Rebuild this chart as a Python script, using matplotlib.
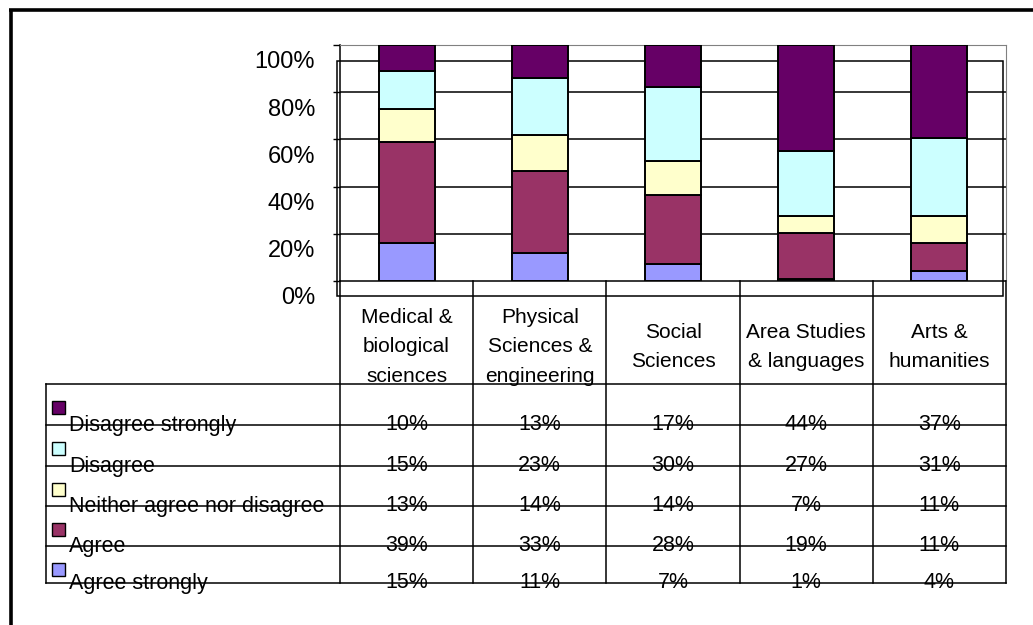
import matplotlib
matplotlib.use("Agg")
import matplotlib.pyplot as plt
import matplotlib.transforms as mtransforms
from matplotlib.patches import Rectangle
import numpy as np

# data
categories = ["Medical &\nbiological\nsciences", "Physical\nSciences &\nengineering",
              "Social\nSciences", "Area Studies\n& languages", "Arts &\nhumanities"]
series_names = ["Disagree strongly", "Disagree", "Neither agree nor disagree",
                "Agree", "Agree strongly"]
disagree_strongly = [10, 13, 17, 44, 37]
disagree = [15, 23, 30, 27, 31]
neither = [13, 14, 14, 7, 11]
agree = [39, 33, 28, 19, 11]
agree_strongly = [15, 11, 7, 1, 4]
series_colors = ["#660066", "#CCFFFF", "#FFFFCC", "#993366", "#9999FF"]
ytick_values = [0, 0.2, 0.4, 0.6, 0.8, 1.0]
ytick_labels = ["0%", "20%", "40%", "60%", "80%", "100%"]

plt.rcParams['font.family'] = ['Liberation Sans', 'DejaVu Sans']

W, H = 1033, 625
fig = plt.figure(figsize=(W / 100, H / 100), dpi=100)

# pixel layout of the plot area
px_left, px_right, px_top, px_bottom = 340, 1006, 45, 281
ax = fig.add_axes([px_left / W, 1 - px_bottom / H, (px_right - px_left) / W,
                   (px_bottom - px_top) / H], zorder=1)
ax.set_facecolor('none')

# overlay in pixel coords for table and frame
ov = fig.add_axes([0, 0, 1, 1], zorder=0)
ov.set_xlim(0, W)
ov.set_ylim(H, 0)
ov.axis('off')

series = [disagree_strongly, disagree, neither, agree, agree_strongly]
data = np.array(series, dtype=float)
share = data / data.sum(axis=0)

# stacked bars, bottom series first
x = np.arange(len(categories))
bottom = np.zeros(len(categories))
for i in range(len(series) - 1, -1, -1):
    ax.bar(x, share[i], 0.42, bottom=bottom, color=series_colors[i],
           edgecolor='black', linewidth=1.4, zorder=3)
    bottom += share[i]

ax.set_xlim(-0.5, len(categories) - 0.5)
ax.set_ylim(0, 1)
ax.set_xticks([])
ax.set_yticks(ytick_values)
ax.set_yticklabels(ytick_labels, fontsize=17)
ax.tick_params(axis='y', direction='out', length=5, width=1, pad=13)
offset = mtransforms.ScaledTranslation(0, -15 / 100, fig.dpi_scale_trans)
for lab in ax.get_yticklabels():
    lab.set_transform(lab.get_transform() + offset)
for v in ytick_values[1:-1]:
    ax.axhline(v, color='black', linewidth=1.1, zorder=1)
ax.spines['top'].set_color('#808080')
ax.spines['right'].set_color('#808080')
ax.spines['left'].set_linewidth(1.1)
ax.spines['bottom'].set_linewidth(1.1)

lw = 1.1
# shifted outline behind the plot area
ov.add_patch(Rectangle((337, 61), 1003 - 337, 296 - 61, fill=False,
                       edgecolor='black', linewidth=lw))

# outer frame
ov.plot([9, W], [9.5, 9.5], color='black', linewidth=2.6, solid_capstyle='butt')
ov.plot([10.5, 10.5], [8.5, H], color='black', linewidth=2.6, solid_capstyle='butt')

# data table
ncol = len(categories)
colw = (px_right - px_left) / ncol
col_edges = [px_left + i * colw for i in range(ncol + 1)]
col_centers = [px_left + (i + 0.5) * colw for i in range(ncol)]
tab_left = 46
header_bottom = 384
row_bottoms = [425, 466, 506, 546, 583]
row_tops = [header_bottom] + row_bottoms[:-1]

for xe in col_edges:
    ov.plot([xe, xe], [px_bottom, row_bottoms[-1]], color='black', linewidth=lw)
ov.plot([tab_left, tab_left], [header_bottom, row_bottoms[-1]], color='black', linewidth=lw)
ov.plot([tab_left, px_right], [header_bottom, header_bottom], color='black', linewidth=lw)

for j, name in enumerate(categories):
    ov.text(col_centers[j], 347, name, ha='center', va='center',
            multialignment='center', fontsize=15, linespacing=1.7)

for i, name in enumerate(series_names):
    ov.add_patch(Rectangle((52, row_tops[i] + 17), 13, 13,
                           facecolor=series_colors[i], edgecolor='black', linewidth=1))
    ov.text(69, row_bottoms[i] + 6, name, ha='left', va='baseline', fontsize=15.5)
    for j in range(ncol):
        ov.text(col_centers[j], row_bottoms[i] + 5, f"{series[i][j]}%",
                ha='center', va='baseline', fontsize=15.5)
    ov.plot([tab_left, px_right], [row_bottoms[i], row_bottoms[i]],
            color='black', linewidth=lw)

fig.savefig("out.png", dpi=100)
